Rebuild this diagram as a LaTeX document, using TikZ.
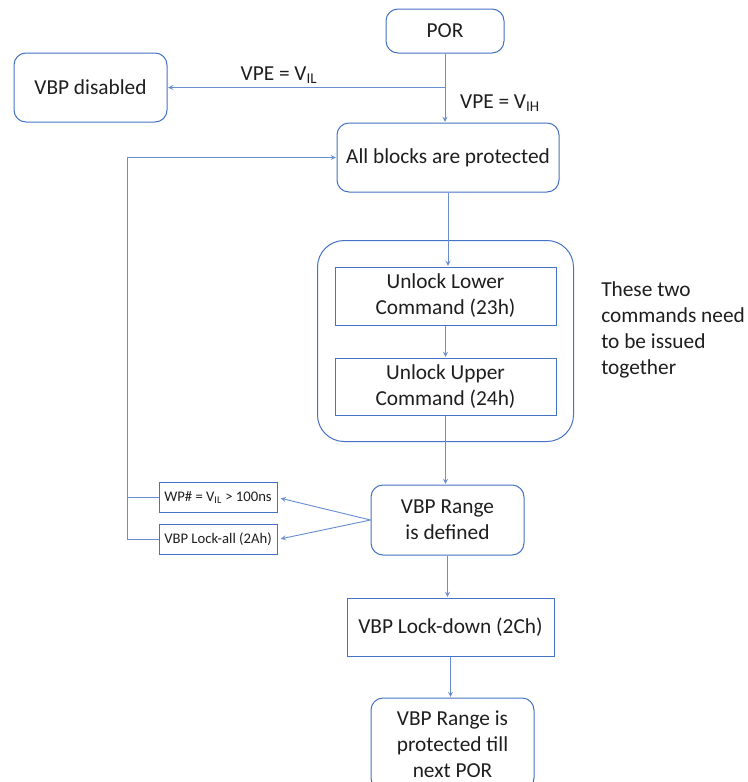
\documentclass[tikz,border=0pt]{standalone}
\usepackage{fontspec}
\setmainfont{Carlito}
\usepackage{xcolor}
\usetikzlibrary{arrows,fit}
\definecolor{boxblue}{RGB}{68,114,196}
\definecolor{lineblue}{RGB}{105,142,210}
\definecolor{txtgray}{RGB}{30,30,30}
\tikzset{
  roundbox/.style={draw=boxblue,line width=0.75pt,rounded corners=9pt,align=center,inner sep=0pt,text=txtgray,font=\fontsize{16}{19.5}\selectfont},
  cmdbox/.style={draw=boxblue,line width=0.75pt,align=center,inner sep=0pt,text=txtgray,font=\fontsize{16}{19.5}\selectfont},
  smallbox/.style={draw=boxblue,line width=0.75pt,align=center,inner sep=0pt,text=txtgray,font=\fontsize{11}{13}\selectfont,minimum width=88.5pt,minimum height=22.5pt},
  groupbox/.style={draw=boxblue,line width=0.75pt,rounded corners=20pt,inner xsep=12.75pt,inner ysep=19.5pt},
  flowline/.style={draw=lineblue,line width=0.7pt},
  flowarrow/.style={draw=lineblue,line width=0.7pt,-stealth,shorten >=0.5pt},
  lbl/.style={text=txtgray,font=\fontsize{16}{19.5}\selectfont,inner sep=0pt}
}

\begin{document}
\begin{tikzpicture}[x=0.75pt,y=-0.75pt]
  \useasboundingbox (0,0) rectangle (748,782);
  \node[roundbox,minimum width=88.5pt,minimum height=33pt] (por) at (445,31) {POR};
  \node[roundbox,minimum width=114.75pt,minimum height=51.75pt] (disabled) at (90.5,87.5) {VBP disabled};
  \node[roundbox,minimum width=166.5pt,minimum height=51.75pt] (allprot) at (448,157.5) {All blocks are protected};
  \node[cmdbox,minimum width=165.75pt,minimum height=43.5pt] (lower) at (445.5,296) {Unlock Lower\\Command (23h)};
  \node[cmdbox,minimum width=165.75pt,minimum height=42.75pt] (upper) at (445.5,386.5) {Unlock Upper\\Command (24h)};
  \node[groupbox,fit=(lower) (upper)] (pair) {};
  \node[lbl,anchor=west,align=left] (note) at (601,330) {These two\\commands need\\to be issued\\together};
  \node[roundbox,minimum width=114.75pt,minimum height=52.5pt] (defined) at (447.5,520) {VBP Range\\is defined};
  \node[smallbox] (wp) at (218,497.5) {WP\# = V\textsubscript{IL} > 100ns};
  \node[smallbox] (lockall) at (218,539.5) {VBP Lock-all (2Ah)};
  \node[cmdbox,minimum width=155.25pt,minimum height=43.5pt] (lockdown) at (450.5,627) {VBP Lock-down (2Ch)};
  \node[roundbox,minimum width=122.25pt,minimum height=69pt] (final) at (452.5,744) {VBP Range is\\protected till\\next POR};
  % power-on branch
  \draw[flowarrow] (por.south) -- (por.south |- allprot.north);
  \draw[flowarrow] (por.south |- disabled.east) -- (disabled.east);
  \node[lbl,anchor=south] (vil) at (279,84) {VPE = V\textsubscript{IL}};
  \node[lbl] (vih) at (500,103) {VPE = V\textsubscript{IH}};
  % unlock sequence
  \draw[flowarrow] (allprot.south) -- (allprot.south |- lower.north);
  \draw[flowarrow] (lower.south) -- (upper.north);
  \draw[flowarrow] (upper.south) -- (upper.south |- defined.north);
  \draw[flowarrow,shorten >=2.5pt] (defined.west) -- (wp.east);
  \draw[flowarrow,shorten >=2.5pt] (defined.west) -- (lockall.east);
  \draw[flowarrow] (defined.south) -- (defined.south |- lockdown.north);
  \draw[flowarrow] (lockdown.south) -- (lockdown.south |- final.north);
  % back to all blocks protected
  \coordinate (loop) at (127,539.5);
  \draw[flowline] (wp.west) -- (wp.west -| loop);
  \draw[flowarrow] (lockall.west) -- (loop) |- (allprot.west);
\end{tikzpicture}
\end{document}
